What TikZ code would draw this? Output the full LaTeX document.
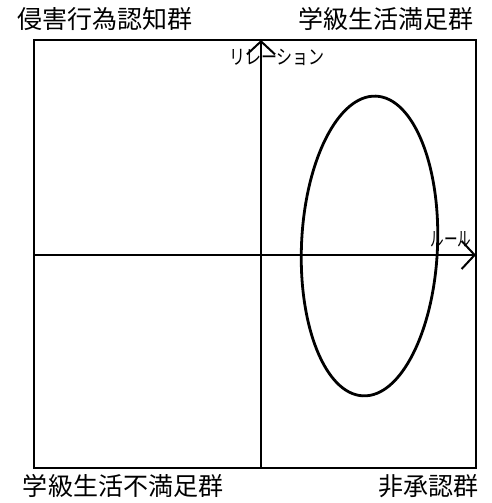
\documentclass[tikz,border=0pt]{standalone}
\usepackage{fontspec}
\newfontfamily\jpfont{Noto Sans CJK JP}
\usetikzlibrary{arrows.meta,positioning}

\begin{document}
\begin{tikzpicture}[x=1pt,y=1pt,
  grp/.style={inner sep=0pt,font=\jpfont\fontsize{25}{28}\selectfont},
  axl/.style={inner sep=0pt,font=\jpfont\fontsize{20}{22}\selectfont,xscale=0.8},
  axisline/.style={line width=2pt,-{Straight Barb[length=13pt,width=28pt,line width=2pt]}}]
\useasboundingbox (0,0) rectangle (491,503);
% frame and axis ends
\coordinate (sw) at (34,35);
\coordinate (ne) at (476,463);
\coordinate (xl) at (34,248);
\coordinate (xr) at (476,248);
\coordinate (yb) at (261,35);
\coordinate (yt) at (261,463);
\draw[line width=2pt] (sw) rectangle (ne);
\draw[axisline] (xl)--(xr);
\draw[axisline] (yb)--(yt);
% group ellipse
\draw[line width=2.8pt,rotate around={-2.5:(369.5,257)}] (369.5,257) ellipse [x radius=68,y radius=150];
% labels
\node[grp] (q2) at (105,484) {侵害行為認知群};
\node[grp] (q1) at (386,484) {学級生活満足群};
\node[grp] (q3) at (123,17) {学級生活不満足群};
\node[grp] (q4) at (428,17) {非承認群};
\node[axl] (rel) at (277,446) {リレーション};
\node[axl,xscale=0.85] (rule) at (451,264) {ルール};
\end{tikzpicture}
\end{document}
